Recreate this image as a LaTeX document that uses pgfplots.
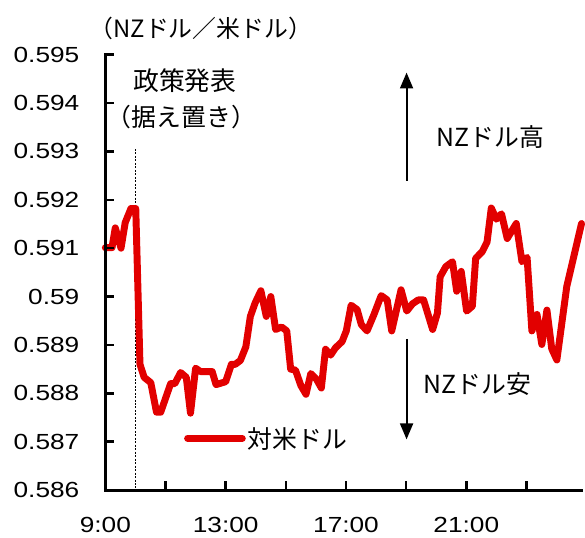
\documentclass[border=0pt]{standalone}
\usepackage{pgfplots}
\pgfplotsset{compat=1.18}
\usepackage{fontspec}
\setmainfont{Liberation Sans}[FakeStretch=1.2]
\newfontfamily\jp{Noto Sans CJK JP}
\usetikzlibrary{arrows.meta}
\definecolor{serred}{RGB}{226,0,0}
\begin{document}
\begin{tikzpicture}
\begin{axis}[
  at={(0pt,0pt)}, anchor=south west,
  scale only axis, width=479pt, height=438pt,
  xmin=9, xmax=24.83, ymin=0.586, ymax=0.595,
  axis x line*=bottom, axis y line*=left,
  clip=false,
  tick align=inside,
  major tick length=9pt,
  xtick={9,11,13,15,17,19,21,23},
  xticklabels={9:00,,13:00,,17:00,,21:00,},
  ytick={0.586,0.587,0.588,0.589,0.590,0.591,0.592,0.593,0.594,0.595},
  yticklabels={0.586,0.587,0.588,0.589,0.59,0.591,0.592,0.593,0.594,0.595},
  tick label style={font=\fontsize{22}{26}\selectfont},
  yticklabel style={anchor=east, inner sep=0pt, xshift=-26pt},
  xticklabel style={anchor=north, inner sep=0pt, yshift=-27pt},
  legend style={draw=none, fill=none, inner sep=0pt, at={(0.165,0.1187)}, anchor=west,
    font=\jp\fontsize{25}{30}\selectfont},
  legend image code/.code={\draw[#1] (0pt,0pt) -- (55pt,0pt);},
]
\draw[dash pattern=on 2pt off 1.5pt, line width=1pt] (axis cs:10,0.59305) -- (axis cs:10,0.586);
\addplot[serred, line width=7pt, line join=round, line cap=round] coordinates {
(9.00,0.59101) (9.22,0.59101) (9.33,0.59142) (9.52,0.59100) (9.66,0.59153)
(9.85,0.59182) (10.01,0.59182) (10.15,0.58860) (10.29,0.58833) (10.51,0.58822)
(10.70,0.58761) (10.84,0.58761) (11.17,0.58820) (11.31,0.58820) (11.50,0.58843)
(11.69,0.58833) (11.83,0.58759) (12.00,0.58852) (12.16,0.58845) (12.55,0.58845)
(12.68,0.58818) (13.00,0.58824) (13.19,0.58860) (13.32,0.58860) (13.49,0.58868)
(13.67,0.58896) (13.82,0.58959) (13.98,0.58987) (14.17,0.59012) (14.35,0.58959)
(14.50,0.59000) (14.66,0.58932) (14.86,0.58937) (15.03,0.58929) (15.16,0.58850)
(15.32,0.58848) (15.50,0.58816) (15.67,0.58798) (15.83,0.58841) (16.02,0.58829)
(16.18,0.58811) (16.32,0.58891) (16.49,0.58879) (16.65,0.58894) (16.87,0.58907)
(17.01,0.58929) (17.17,0.58982) (17.37,0.58973) (17.51,0.58942) (17.70,0.58929)
(17.93,0.58963) (18.17,0.59002) (18.37,0.58993) (18.52,0.58929) (18.83,0.59014)
(19.02,0.58970) (19.21,0.58985) (19.40,0.58993) (19.58,0.58993) (19.88,0.58932)
(20.04,0.58966) (20.13,0.59041) (20.32,0.59062) (20.54,0.59072) (20.68,0.59011)
(20.83,0.59052) (21.01,0.58970) (21.20,0.58980) (21.31,0.59079) (21.53,0.59093)
(21.69,0.59113) (21.83,0.59183) (22.00,0.59160) (22.17,0.59171) (22.36,0.59120)
(22.66,0.59151) (22.85,0.59072) (23.02,0.59081) (23.18,0.58929) (23.35,0.58963)
(23.51,0.58901) (23.68,0.58972) (23.84,0.58892) (24.01,0.58869) (24.34,0.59021)
(24.83,0.59151)
};
\addlegendentry{対米ドル}
\draw[line width=3pt, black, line cap=rect] (rel axis cs:0,1) -- (rel axis cs:0,0) -- (rel axis cs:1,0);
\pgfplotsinvokeforeach{0.587,0.588,0.589,0.590,0.591,0.592,0.593,0.594,0.595}{
  \draw[line width=2.5pt, black] (axis cs:9,#1) -- ++(9pt,0pt);
}
\pgfplotsinvokeforeach{11,13,15,17,19,21,23}{
  \draw[line width=2.5pt, black] (axis cs:#1,0.586) -- ++(0pt,9pt);
}
\end{axis}
\path[use as bounding box] (-106pt,-48pt) rectangle (479pt,493pt);
\node[font=\jp\fontsize{24}{28}\selectfont] at (96pt,464pt) {（NZドル／米ドル）};
\node[font=\jp\fontsize{26}{30}\selectfont] at (80pt,412pt) {政策発表};
\node[font=\jp\fontsize{25}{30}\selectfont] at (76.5pt,375.5pt) {（据え置き）};
\node[font=\jp\fontsize{25}{30}\selectfont] at (387.5pt,355pt) {NZドル高};
\node[font=\jp\fontsize{25}{30}\selectfont] at (374.5pt,107pt) {NZドル安};
\draw[line width=2pt, -{Triangle[width=13pt,length=16pt]}] (303pt,311pt) -- (303pt,420pt);
\draw[line width=2pt, -{Triangle[width=13pt,length=16pt]}] (303pt,152pt) -- (303pt,51pt);
\end{tikzpicture}
\end{document}
